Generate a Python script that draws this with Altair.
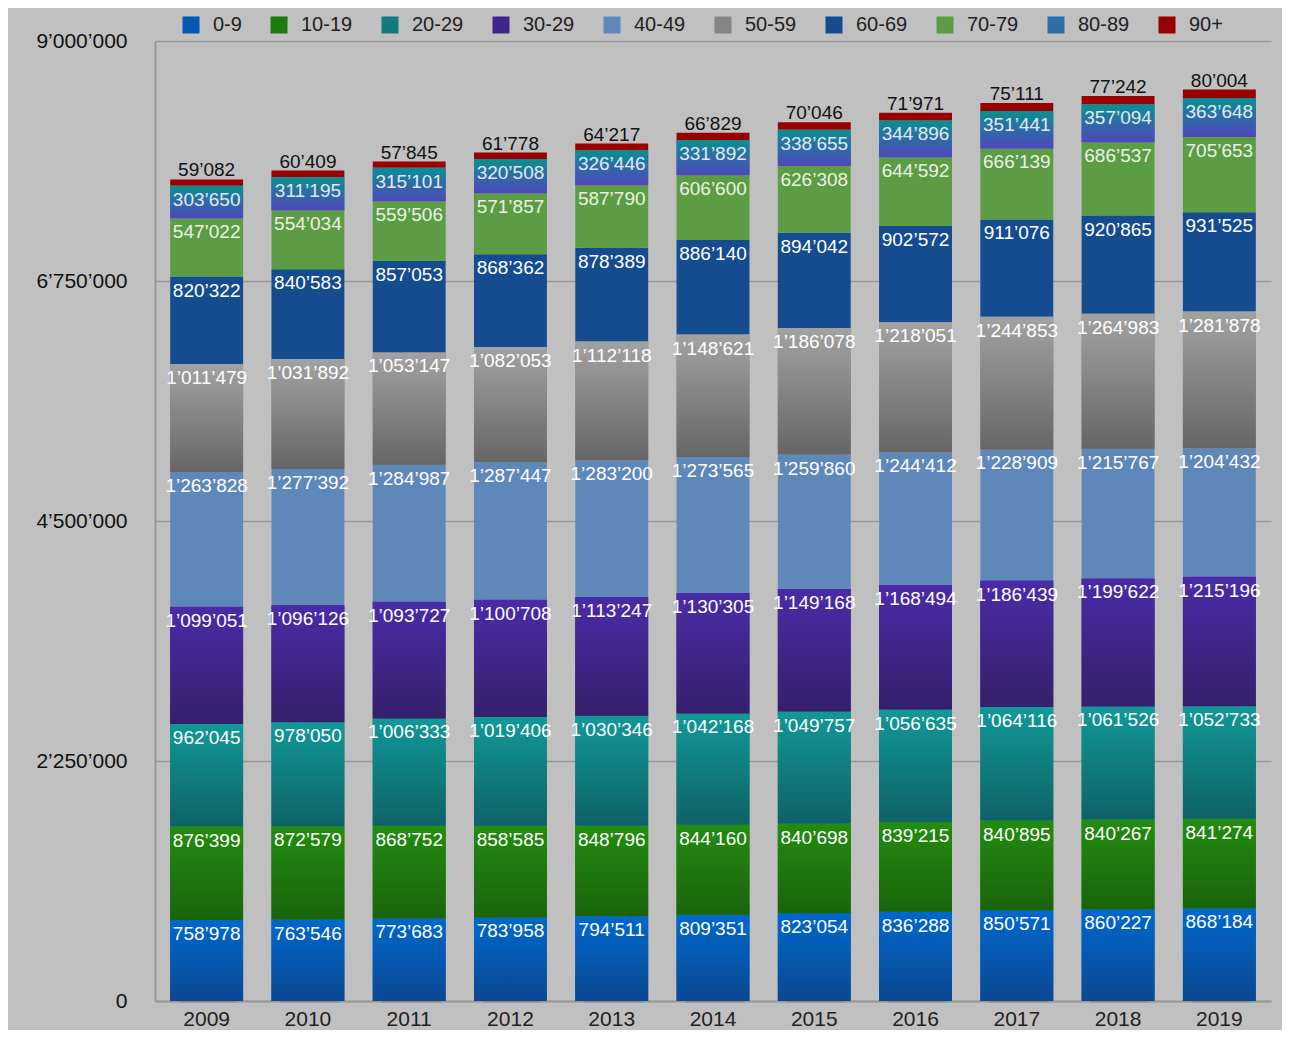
import altair as alt
import pandas as pd

years = ["2009", "2010", "2011", "2012", "2013", "2014", "2015", "2016", "2017", "2018", "2019"]
groups = ["0-9", "10-19", "20-29", "30-29", "40-49", "50-59", "60-69", "70-79", "80-89", "90+"]

v_0_9 = [758978, 763546, 773683, 783958, 794511, 809351, 823054, 836288, 850571, 860227, 868184]
v_10_19 = [876399, 872579, 868752, 858585, 848796, 844160, 840698, 839215, 840895, 840267, 841274]
v_20_29 = [962045, 978050, 1006333, 1019406, 1030346, 1042168, 1049757, 1056635, 1064116, 1061526, 1052733]
v_30_39 = [1099051, 1096126, 1093727, 1100708, 1113247, 1130305, 1149168, 1168494, 1186439, 1199622, 1215196]
v_40_49 = [1263828, 1277392, 1284987, 1287447, 1283200, 1273565, 1259860, 1244412, 1228909, 1215767, 1204432]
v_50_59 = [1011479, 1031892, 1053147, 1082053, 1112118, 1148621, 1186078, 1218051, 1244853, 1264983, 1281878]
v_60_69 = [820322, 840583, 857053, 868362, 878389, 886140, 894042, 902572, 911076, 920865, 931525]
v_70_79 = [547022, 554034, 559506, 571857, 587790, 606600, 626308, 644592, 666139, 686537, 705653]
v_80_89 = [303650, 311195, 315101, 320508, 326446, 331892, 338655, 344896, 351441, 357094, 363648]
v_90 = [59082, 60409, 57845, 61778, 64217, 66829, 70046, 71971, 75111, 77242, 80004]

series = [v_0_9, v_10_19, v_20_29, v_30_39, v_40_49, v_50_59, v_60_69, v_70_79, v_80_89, v_90]

flat_colors = ["#0359b4", "#1f7a0e", "#107c7e", "#402688", "#5f88ba",
               "#858585", "#154c8f", "#5c9c45", "#2f6ca8", "#990000"]
# top -> bottom gradient colours (None = flat)
grad_colors = [("#0068cc", "#0b4892"), ("#238c10", "#1a640c"), ("#129898", "#0e6266"),
               ("#4a2ba8", "#35206c"), None, ("#a2a2a2", "#666666"), None, None,
               ("#0a9090", "#5046bc"), None]
label_colors = ["#ffffff", "#ffffff", "#ffffff", "#ffffff", "#ffffff",
                "#ffffff", "#ffffff", "#eaf3e2", "#e2e8f6", "#111111"]


def fmt(v):
    return f"{v:,}".replace(",", "\u2019")


rows = []
for gi, (g, vals) in enumerate(zip(groups, series)):
    for yr, v in zip(years, vals):
        rows.append(dict(year=yr, group=g, order=gi, value=v, label=fmt(v),
                         lcolor=label_colors[gi]))
df = pd.DataFrame(rows)

FONT = "Liberation Sans"

X = alt.X("year:N", title=None, sort=years,
          scale=alt.Scale(paddingInner=0.28, paddingOuter=0.15),
          axis=alt.Axis(labelAngle=0, ticks=False, labelFontSize=21, labelFont=FONT,
                        labelColor="#222222", labelPadding=7, grid=False,
                        domainColor="#979797", domainWidth=2))
YAX = alt.Axis(values=[0, 2250000, 4500000, 6750000, 9000000], ticks=False,
               labelExpr="replace(format(datum.value, ','), regexp(',', 'g'), '\u2019')",
               labelFontSize=21, labelFont=FONT, labelColor="#111111", labelPadding=28,
               grid=True, gridColor="#979797", gridWidth=1.5,
               domainColor="#979797", domainWidth=2)
YSC = alt.Scale(domain=[0, 9000000], nice=False, zero=True)

base = alt.Chart(df).transform_stack(
    stack="value", groupby=["year"], as_=["y0", "y1"],
    sort=[alt.SortField("order", order="ascending")])

totals = alt.Chart(df).transform_aggregate(total="sum(value)", groupby=["year"])

shadow_outer = totals.mark_bar(color="#000000", opacity=0.06, xOffset=2, yOffset=2,
                               width=alt.RelativeBandSize(0.82)).encode(
    x=X, y=alt.Y("total:Q", title=None, scale=YSC, axis=YAX))
shadow_inner = totals.mark_bar(color="#000000", opacity=0.08, xOffset=1, yOffset=1,
                               width=alt.RelativeBandSize(0.77)).encode(
    x=X, y=alt.Y("total:Q", title=None, scale=YSC, axis=YAX))

flat = base.mark_bar().encode(
    x=X,
    y=alt.Y("y0:Q", title=None, scale=YSC, axis=YAX),
    y2="y1:Q",
    color=alt.Color("group:N", sort=groups,
                    scale=alt.Scale(domain=groups, range=flat_colors),
                    legend=alt.Legend(title=None, orient="none", direction="horizontal",
                                      columns=10, legendX=26, legendY=-26,
                                      symbolType="square", symbolSize=289,
                                      symbolStrokeWidth=0, symbolOpacity=1,
                                      labelFont=FONT, labelFontSize=20,
                                      labelColor="#222222", labelOffset=12,
                                      columnPadding=27, padding=0)),
)

layers = [shadow_outer, shadow_inner, flat]
for g, gc in zip(groups, grad_colors):
    if gc is None:
        continue
    grad = alt.Gradient(gradient="linear", x1=0, x2=0, y1=0, y2=1,
                        stops=[alt.GradientStop(color=gc[0], offset=0),
                               alt.GradientStop(color=gc[1], offset=1)])
    layers.append(
        base.transform_filter(alt.datum.group == g).mark_bar(fill=grad).encode(
            x=X, y=alt.Y("y0:Q", title=None, scale=YSC, axis=YAX), y2="y1:Q"))

inner_text = base.transform_filter(alt.datum.group != "90+").mark_text(
    baseline="top", dy=5, fontSize=19, font=FONT).encode(
    x=X, y=alt.Y("y1:Q", title=None, scale=YSC, axis=YAX),
    text="label:N", color=alt.Color("lcolor:N", scale=None))

top_text = base.transform_filter(alt.datum.group == "90+").mark_text(
    baseline="alphabetic", dy=-3, fontSize=19, font=FONT).encode(
    x=X, y=alt.Y("y1:Q", title=None, scale=YSC, axis=YAX),
    text="label:N", color=alt.Color("lcolor:N", scale=None))

layers += [inner_text, top_text]

chart = alt.layer(*layers).properties(
    width=1116, height=960,
    autosize=alt.AutoSizeParams(type="none"),
    padding={"left": 147, "top": 33, "right": 11, "bottom": 29},
    background="#c0c0c0",
).configure_view(stroke=None)

chart.save("out.html", embed_options={"renderer": "svg", "actions": False})
